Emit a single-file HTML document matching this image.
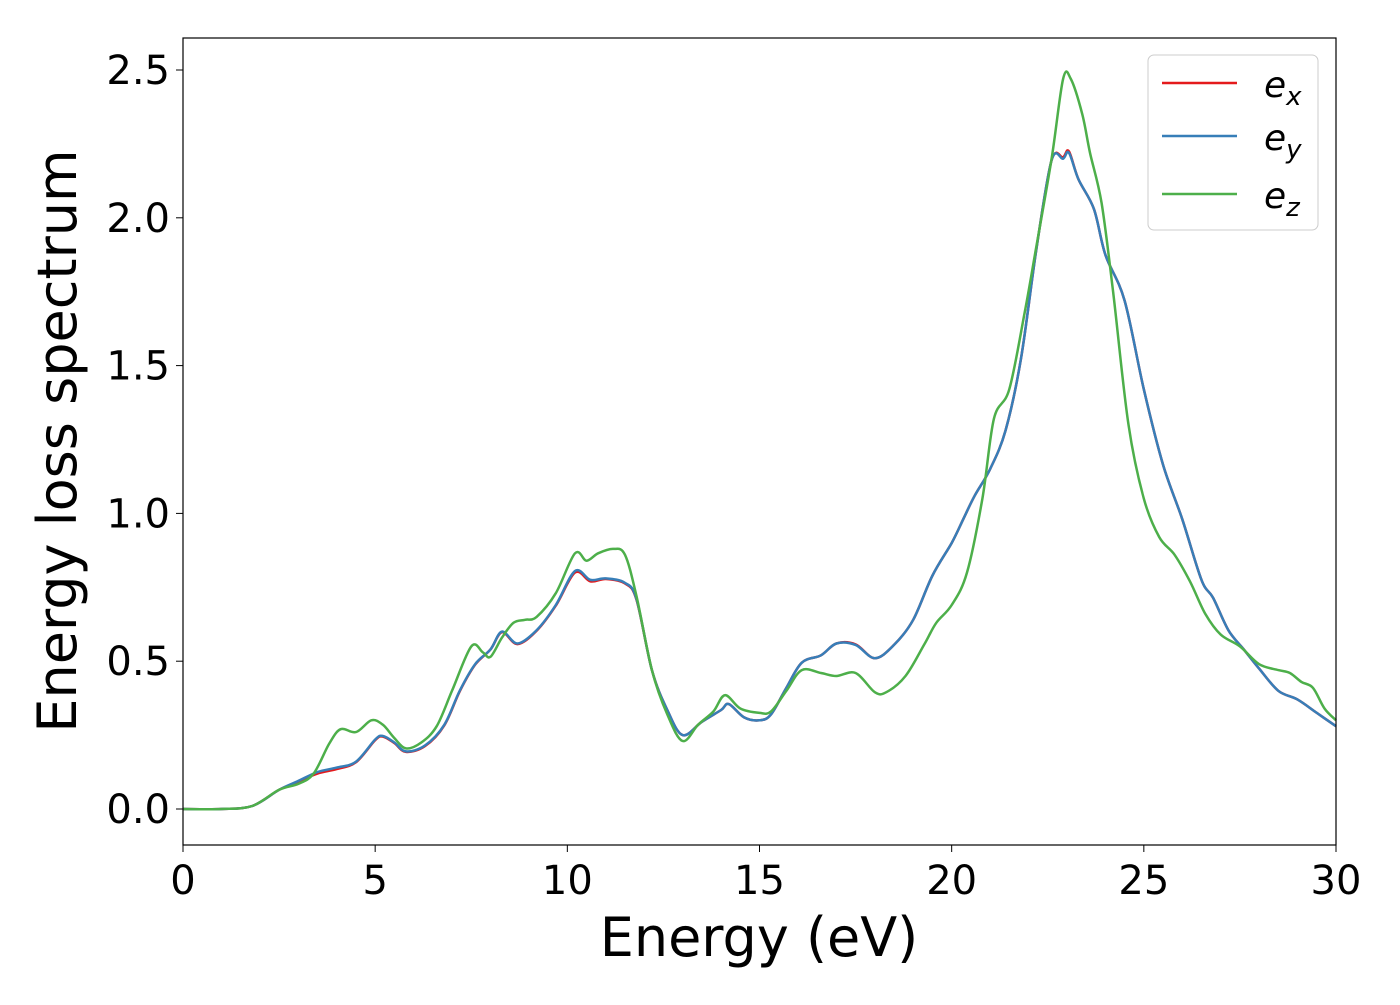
<!DOCTYPE html>
<html><head><meta charset="utf-8">
<style>
html,body{margin:0;padding:0;background:#fff;}
svg text{font-family:"DejaVu Sans","Liberation Sans",sans-serif;}
</style></head>
<body>
<svg id="chart" width="1400" height="1000" viewBox="0 0 1400 1000" xmlns="http://www.w3.org/2000/svg">
<rect x="0" y="0" width="1400" height="1000" fill="#fff"/>
<g id="series"></g>
<rect x="183" y="38" width="1153" height="807" fill="none" stroke="#000" stroke-width="1.2"/>
<g id="xticks"></g>
<g id="yticks"></g>
<text x="759" y="956" font-size="54" text-anchor="middle">Energy (eV)</text>
<text transform="translate(76,441) rotate(-90)" font-size="54" text-anchor="middle">Energy loss spectrum</text>
<g>
<rect x="1148" y="55" width="170" height="175" rx="6" fill="#fff" fill-opacity="0.8" stroke="#ccc" stroke-width="1"/>
<line x1="1162" y1="83" x2="1237" y2="83" stroke="#e41a1c" stroke-width="2.5"/>
<text x="1264" y="97" font-size="36" font-style="italic">e<tspan font-size="26" dy="8">x</tspan></text>
<line x1="1162" y1="136" x2="1237" y2="136" stroke="#377eb8" stroke-width="2.5"/>
<text x="1264" y="150" font-size="36" font-style="italic">e<tspan font-size="26" dy="8">y</tspan></text>
<line x1="1162" y1="194" x2="1237" y2="194" stroke="#4daf4a" stroke-width="2.5"/>
<text x="1264" y="208" font-size="36" font-style="italic">e<tspan font-size="26" dy="8">z</tspan></text>
</g>
</svg>
<script>
const xTicks=[0,5,10,15,20,25,30];
const yTicks=[0.0,0.5,1.0,1.5,2.0,2.5];
const yTickLabels=["0.0","0.5","1.0","1.5","2.0","2.5"];
const eyX=[0,1,1.8,2.5,3,3.5,4,4.5,5,5.2,5.5,5.8,6.3,6.8,7.2,7.6,8,8.3,8.7,9.2,9.7,10.2,10.6,11,11.5,11.8,12.2,12.6,13,13.5,14,14.2,14.6,15,15.3,15.7,16.1,16.6,17,17.5,18,18.5,19,19.5,20,20.3,20.6,21,21.4,21.8,22.2,22.6,22.9,23.05,23.3,23.7,24,24.5,25,25.5,26,26.5,26.8,27.2,27.6,28,28.5,29,29.5,30];
const eyY=[0,0,0.01,0.065,0.095,0.125,0.14,0.16,0.235,0.247,0.225,0.195,0.215,0.285,0.40,0.49,0.54,0.60,0.56,0.605,0.69,0.805,0.775,0.78,0.765,0.71,0.47,0.335,0.25,0.295,0.335,0.355,0.31,0.30,0.32,0.41,0.495,0.52,0.56,0.555,0.51,0.555,0.64,0.79,0.90,0.98,1.06,1.15,1.28,1.52,1.89,2.195,2.20,2.22,2.13,2.03,1.875,1.72,1.42,1.165,0.98,0.775,0.715,0.605,0.54,0.475,0.40,0.37,0.325,0.28];
const exY=[0,0,0.01,0.065,0.093,0.12,0.135,0.158,0.233,0.245,0.223,0.193,0.213,0.283,0.398,0.488,0.54,0.598,0.558,0.603,0.688,0.8,0.77,0.778,0.763,0.708,0.47,0.335,0.25,0.295,0.335,0.355,0.31,0.30,0.32,0.41,0.495,0.52,0.56,0.557,0.51,0.555,0.64,0.79,0.90,0.98,1.06,1.15,1.28,1.52,1.89,2.195,2.205,2.225,2.13,2.03,1.875,1.72,1.42,1.165,0.98,0.775,0.715,0.605,0.54,0.475,0.40,0.37,0.325,0.28];
const ezX=[0,1,1.8,2.5,3,3.4,3.8,4.1,4.5,4.9,5.2,5.5,5.8,6.2,6.6,7,7.5,7.8,8.0,8.3,8.6,8.9,9.2,9.7,10.2,10.5,10.8,11.2,11.5,11.8,12.2,12.6,13,13.4,13.8,14.1,14.5,15,15.3,15.7,16.1,16.6,17,17.5,18,18.3,18.8,19.3,19.6,20,20.4,20.8,21.1,21.5,21.9,22.2,22.6,22.9,23.1,23.4,23.6,23.9,24.2,24.6,25,25.4,25.8,26.2,26.6,27,27.5,28,28.5,28.8,29.1,29.4,29.7,30];
const ezY=[0,0,0.01,0.065,0.085,0.12,0.22,0.27,0.26,0.30,0.285,0.24,0.205,0.225,0.28,0.40,0.55,0.53,0.515,0.58,0.63,0.64,0.65,0.73,0.865,0.84,0.865,0.88,0.86,0.72,0.47,0.32,0.23,0.285,0.33,0.385,0.34,0.325,0.33,0.40,0.47,0.46,0.45,0.46,0.395,0.395,0.45,0.56,0.63,0.69,0.80,1.05,1.32,1.42,1.68,1.9,2.2,2.47,2.47,2.35,2.22,2.05,1.75,1.3,1.05,0.92,0.86,0.77,0.66,0.59,0.55,0.49,0.47,0.46,0.43,0.41,0.34,0.30];

const X0=183,X1=1336,Y0=809,Y1=70;
function sx(v){return X0+(v/30)*(X1-X0);}
function sy(v){return Y0+(v/2.5)*(Y1-Y0);}
const NS="http://www.w3.org/2000/svg";
function pathD(xs,ys){
  const p=xs.map((x,i)=>[sx(x),sy(ys[i])]);
  let d="M"+p[0][0].toFixed(1)+","+p[0][1].toFixed(1);
  for(let i=0;i<p.length-1;i++){
    const a=p[Math.max(i-1,0)],b=p[i],c=p[i+1],e=p[Math.min(i+2,p.length-1)];
    const c1=[b[0]+(c[0]-a[0])/6,b[1]+(c[1]-a[1])/6];
    const c2=[c[0]-(e[0]-b[0])/6,c[1]-(e[1]-b[1])/6];
    d+=" C"+c1[0].toFixed(1)+","+c1[1].toFixed(1)+" "+c2[0].toFixed(1)+","+c2[1].toFixed(1)+" "+c[0].toFixed(1)+","+c[1].toFixed(1);
  }
  return d;
}
const g=document.getElementById("series");
function addLine(xs,ys,color,name){
  const el=document.createElementNS(NS,"path");
  el.setAttribute("d",pathD(xs,ys));
  el.setAttribute("fill","none");
  el.setAttribute("stroke",color);
  el.setAttribute("stroke-width","2.5");
  
  
  g.appendChild(el);
}
addLine(eyX,exY,"#e41a1c","line-ex");
addLine(eyX,eyY,"#377eb8","line-ey");
addLine(ezX,ezY,"#4daf4a","line-ez");

const xg=document.getElementById("xticks");
xTicks.forEach(t=>{
  const l=document.createElementNS(NS,"line");
  l.setAttribute("x1",sx(t));l.setAttribute("x2",sx(t));
  l.setAttribute("y1",845);l.setAttribute("y2",852);
  l.setAttribute("stroke","#000");
  
  
  xg.appendChild(l);
  const tx=document.createElementNS(NS,"text");
  tx.setAttribute("x",sx(t));tx.setAttribute("y",894);
  tx.setAttribute("font-size","40");tx.setAttribute("text-anchor","middle");
  tx.textContent=String(t);
  
  
  xg.appendChild(tx);
});
const yg=document.getElementById("yticks");
yTicks.forEach((t,i)=>{
  const l=document.createElementNS(NS,"line");
  l.setAttribute("x1",176);l.setAttribute("x2",183);
  l.setAttribute("y1",sy(t));l.setAttribute("y2",sy(t));
  l.setAttribute("stroke","#000");
  
  
  yg.appendChild(l);
  const tx=document.createElementNS(NS,"text");
  tx.setAttribute("x",170);tx.setAttribute("y",sy(t)+14);
  tx.setAttribute("font-size","40");tx.setAttribute("text-anchor","end");
  tx.textContent=yTickLabels[i];
  
  
  yg.appendChild(tx);
});
</script>
</body></html>
